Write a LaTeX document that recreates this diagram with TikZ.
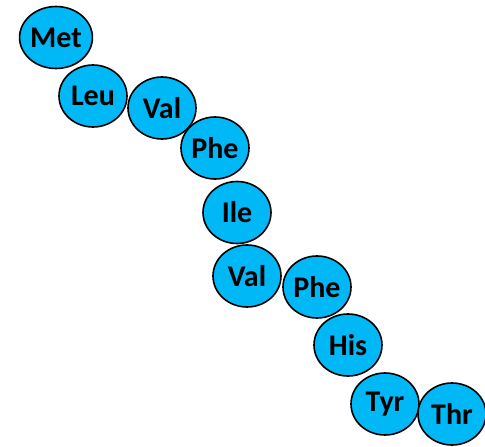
\documentclass[tikz,border=0pt]{standalone}
\usepackage{fontspec}
\setmainfont{Carlito}
\usepackage{tikz}
\usetikzlibrary{shapes.geometric}
\pgfdeclarelayer{nodelayer}
\pgfsetlayers{main,nodelayer}
\definecolor{aacyan}{HTML}{00B8F5}
\tikzstyle{none} = []
\tikzstyle{residue}=[ellipse, draw=black, line width=1.6pt, fill=aacyan, minimum width=68pt, minimum height=62pt, inner sep=0pt, font=\fontsize{30}{35}\selectfont\bfseries]

\begin{document}
\begin{tikzpicture}[x=1pt, y=-1pt]
	\useasboundingbox (0, 0) rectangle (485, 447);
	\begin{pgfonlayer}{nodelayer}
		\node [style=residue] (0) at (56, 37.5) {Met};
		\node [style=residue] (1) at (93, 96) {Leu};
		\node [style=residue] (2) at (162, 108) {Val};
		\node [style=residue] (3) at (215, 148) {Phe};
		\node [style=residue] (4) at (237, 212.5) {Ile};
		\node [style=residue] (5) at (247, 276) {Val};
		\node [style=residue] (6) at (317, 287) {Phe};
		\node [style=residue] (7) at (348, 345) {His};
		\node [style=residue] (8) at (385, 404) {Tyr};
		\node [style=residue] (9) at (452, 414) {Thr};
	\end{pgfonlayer}
\end{tikzpicture}
\end{document}
